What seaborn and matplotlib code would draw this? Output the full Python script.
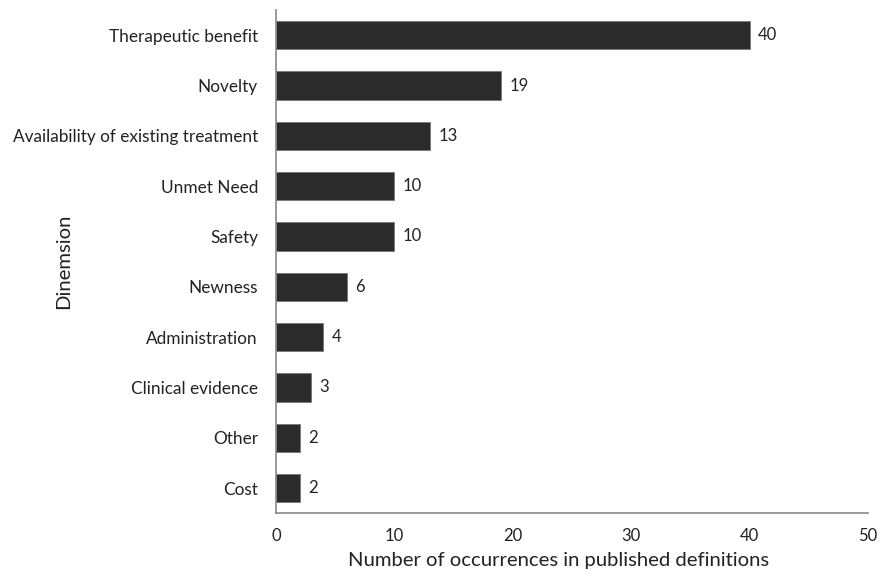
import matplotlib
matplotlib.use("Agg")
import matplotlib.pyplot as plt
import seaborn as sns
import pandas as pd

categories = ["Therapeutic benefit", "Novelty", "Availability of existing treatment",
              "Unmet Need", "Safety", "Newness", "Administration",
              "Clinical evidence", "Other", "Cost"]
counts = [40, 19, 13, 10, 10, 6, 4, 3, 2, 2]
xticks = [0, 10, 20, 30, 40, 50]

df = pd.DataFrame({"Dimension": categories, "Count": counts})

sns.set_theme(style="white")
plt.rcParams['font.family'] = ['Lato', 'DejaVu Sans']

fig = plt.figure(figsize=(8.8, 5.76), dpi=100)
ax = fig.add_axes([0.3136, 0.109, 0.6728, 0.8736])
sns.barplot(data=df, x="Count", y="Dimension", order=categories, color="#2b2b2b",
            saturation=1, width=0.56, edgecolor="#777777", linewidth=0.6, ax=ax)

for i, v in enumerate(counts):
    ax.text(v + 0.7, i, str(v), va="center", ha="left", fontsize=12, color="#222222")

ax.set_xlim(0, 50)
ax.set_ylim(9.5, -0.5)
ax.set_xticks(xticks)
ax.set_xticklabels([str(t) for t in xticks], fontsize=12, color="#222222")
ax.tick_params(axis="y", labelsize=12.4, colors="#222222", length=0, pad=13)
ax.tick_params(axis="x", length=6, direction="inout", color="#888888", pad=8)
for lbl in ax.get_yticklabels():
    lbl.set_color("#222222")
ax.set_xlabel("Number of occurrences in published definitions", fontsize=14.6, color="#222222")
ax.set_ylabel("Dinemsion", fontsize=14.6, color="#222222")
ax.xaxis.set_label_coords(0.478, -0.078)
ax.yaxis.set_label_coords(-0.345, 0.5)
for s in ["top", "right"]:
    ax.spines[s].set_visible(False)
for s in ["left", "bottom"]:
    ax.spines[s].set_color("#888888")
    ax.spines[s].set_linewidth(1.2)

fig.savefig("out.png", dpi=100)
